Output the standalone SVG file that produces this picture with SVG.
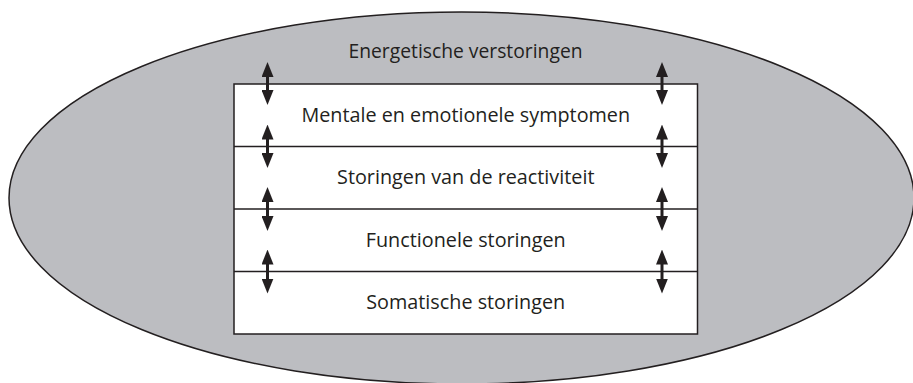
<svg xmlns="http://www.w3.org/2000/svg" width="913" height="383" viewBox="0 0 913 383">
<defs>
<style>
.lbl{font-family:"Open Sans","Noto Sans","Liberation Sans",sans-serif;font-size:19.8px;fill:#231f20;text-anchor:middle}
.sep{stroke:#231f20;stroke-width:1.5;fill:none}
.arr{stroke:#231f20;stroke-width:3;fill:none;marker-start:url(#ah);marker-end:url(#ah)}
</style>
<marker id="ah" viewBox="0 0 15 12" refX="2" refY="6" markerWidth="15" markerHeight="12" markerUnits="userSpaceOnUse" orient="auto-start-reverse">
<path d="M0,0 L15,6 L0,12 Z" fill="#231f20"/>
</marker>
</defs>
<g id="outer">
<ellipse cx="461.5" cy="198" rx="452.5" ry="186" fill="#bcbdc1" stroke="#231f20" stroke-width="1.5"/>
<text class="lbl" x="465.5" y="58" style="font-size:19.3px">Energetische verstoringen</text>
</g>
<g id="box">
<rect x="234" y="84" width="463.5" height="250" fill="#ffffff" stroke="#231f20" stroke-width="1.5"/>
</g>
<g id="layer1"><text class="lbl" x="465.75" y="122">Mentale en emotionele symptomen</text></g>
<g id="layer2"><line class="sep" x1="234" y1="146.5" x2="697.5" y2="146.5"/><text class="lbl" x="465.75" y="184">Storingen van de reactiviteit</text></g>
<g id="layer3"><line class="sep" x1="234" y1="209" x2="697.5" y2="209"/><text class="lbl" x="465.75" y="246.5">Functionele storingen</text></g>
<g id="layer4"><line class="sep" x1="234" y1="271.5" x2="697.5" y2="271.5"/><text class="lbl" x="465.75" y="308.5">Somatische storingen</text></g>
<g id="connectors">
<line class="arr" x1="267.5" y1="75" x2="267.5" y2="92"/>
<line class="arr" x1="267.5" y1="137.5" x2="267.5" y2="155"/>
<line class="arr" x1="267.5" y1="200" x2="267.5" y2="218"/>
<line class="arr" x1="267.5" y1="262.5" x2="267.5" y2="280.5"/>
<line class="arr" x1="662" y1="75" x2="662" y2="92"/>
<line class="arr" x1="662" y1="137.5" x2="662" y2="155"/>
<line class="arr" x1="662" y1="200" x2="662" y2="218"/>
<line class="arr" x1="662" y1="262.5" x2="662" y2="280.5"/>
</g>
</svg>
